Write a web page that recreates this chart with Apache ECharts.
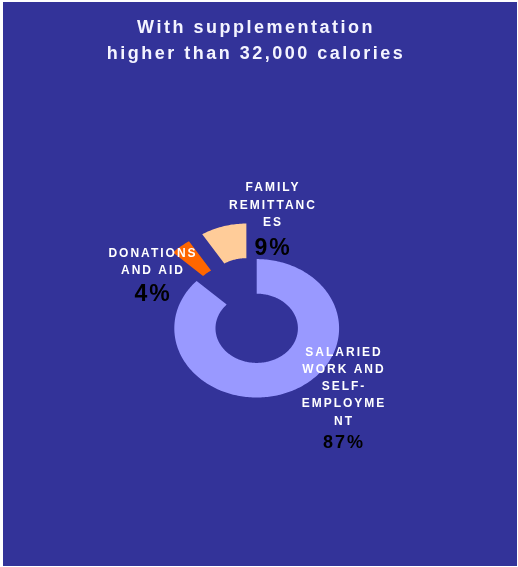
<!DOCTYPE html>
<html>
<head>
<meta charset="utf-8">
<script src="https://cdn.jsdelivr.net/npm/echarts@6/dist/echarts.min.js"></script>
<style>
html,body{margin:0;padding:0;background:#fff;}
#chart{width:518px;height:567px;}
</style>
</head>
<body>
<div id="chart"></div>
<script>
// Data
const categories = ['SALARIED WORK AND SELF-EMPLOYMENT', 'DONATIONS AND AID', 'FAMILY REMITTANCES'];
const values = [87, 4, 9];
const labelLines = [
  ['SALARIED', 'WORK AND', 'SELF-', 'EMPLOYME', 'NT'],
  ['DONATIONS', 'AND AID'],
  ['FAMILY', 'REMITTANC', 'ES']
];
const percentLabels = ['87%', '4%', '9%'];
const titleLines = ['With supplementation', 'higher than 32,000 calories'];

// Styles
const colors = ['#9999FF', '#FF6600', '#FFCC99'];
const explode = [0, 37, 37];
const FONT = '"Liberation Sans", Arial, sans-serif';

const chart = echarts.init(document.getElementById('chart'), null, {renderer: 'canvas'});

const total = values.reduce((a, b) => a + b, 0);
const CX = 256.7, CY = 328.3, R = 82.4, R0 = 41.2, K = 0.84;

function renderItem(params, api) {
  const idx = params.dataIndex;
  const v = api.value(1);
  let before = 0;
  for (let i = 0; i < idx; i++) before += values[i];
  const t0 = -Math.PI / 2 + before / total * Math.PI * 2;
  const t1 = t0 + v / total * Math.PI * 2;
  const tm = (t0 + t1) / 2;
  const d = explode[idx];
  const ox = d * Math.cos(tm), oy = d * Math.sin(tm);
  const pts = [];
  const n = Math.max(8, Math.ceil((t1 - t0) / 0.02));
  for (let i = 0; i <= n; i++) {
    const t = t0 + (t1 - t0) * i / n;
    pts.push([CX + ox + R * Math.cos(t), CY + oy + K * R * Math.sin(t)]);
  }
  for (let i = n; i >= 0; i--) {
    const t = t0 + (t1 - t0) * i / n;
    pts.push([CX + ox + R0 * Math.cos(t), CY + oy + K * R0 * Math.sin(t)]);
  }
  return {
    type: 'polygon',
    shape: {points: pts},
    style: {fill: colors[idx], stroke: null}
  };
}

// label placement (centre x, first-line y, percent y, percent size)
const labelPos = [
  {x: 344, y: 352.5, py: 443.5, ps: 18},
  {x: 153, y: 253.5, py: 295, ps: 23},
  {x: 273, y: 188, py: 248.5, ps: 23}
];

const graphics = [
  {type: 'rect', shape: {x: 3, y: 2, width: 514, height: 564}, style: {fill: '#333399'}, z: -10, silent: true}
];
titleLines.forEach((t, i) => {
  graphics.push({
    type: 'text', x: 256, y: 28 + i * 26, zlevel: 1,
    style: {text: t, fill: '#F4F4FF', font: 'bold 18px ' + FONT, textAlign: 'center', textVerticalAlign: 'middle'}
  });
});
labelLines.forEach((lines, k) => {
  const p = labelPos[k];
  lines.forEach((t, i) => {
    graphics.push({
      type: 'text', x: p.x, y: p.y + i * 17.2, zlevel: 2,
      style: {text: t, fill: '#FFFFFF', font: 'bold 12px ' + FONT, textAlign: 'center', textVerticalAlign: 'middle'}
    });
  });
  graphics.push({
    type: 'text', x: p.x, y: p.py, zlevel: 2,
    style: {text: percentLabels[k], fill: '#000000', font: 'bold ' + p.ps + 'px ' + FONT, textAlign: 'center', textVerticalAlign: 'middle'}
  });
});

const option = {
  backgroundColor: '#ffffff',
  animation: false,
  graphic: graphics,
  series: [{
    type: 'custom',
    coordinateSystem: 'none',
    renderItem: renderItem,
    data: values.map((v, i) => [i, v, categories[i]]),
    z: 2
  }]
};
chart.setOption(option);

// letter spacing like the original, applied to the text layers
try {
  const painter = chart.getZr().painter;
  const l1 = painter.getLayer(1);
  const l2 = painter.getLayer(2);
  if (l1 && l1.ctx) l1.ctx.letterSpacing = '2.5px';
  if (l2 && l2.ctx) l2.ctx.letterSpacing = '2px';
  chart.clear();
  chart.setOption(option);
} catch (e) {}
</script>
</body>
</html>
